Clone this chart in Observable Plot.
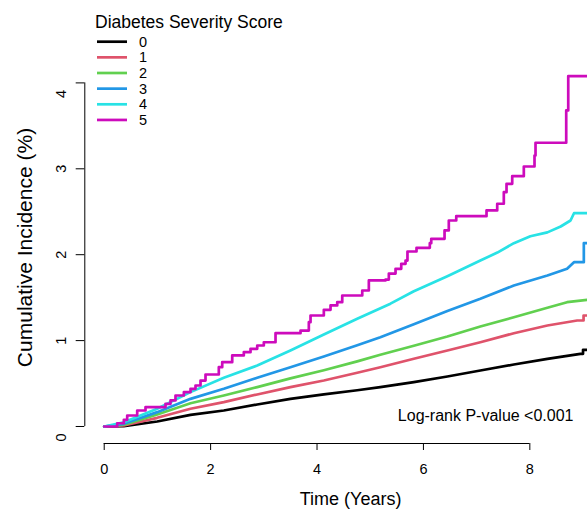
<!DOCTYPE html>
<html>
<head>
<meta charset="utf-8">
<script src="https://cdn.jsdelivr.net/npm/d3@7"></script>
<script src="https://cdn.jsdelivr.net/npm/@observablehq/plot@0.6"></script>
<style>
  html, body { margin: 0; padding: 0; background: #fff; }
  #wrap { position: relative; width: 587px; height: 512px; font-family: "Liberation Sans", Arial, Helvetica, sans-serif; }
  #wrap svg { display: block; }
  #legend { position: absolute; left: 0; top: 0; }
</style>
</head>
<body>
<div id="wrap"></div>
<script>
// ---- data ----
const scores = ["0", "1", "2", "3", "4", "5"];
const palette = ["#000000", "#DF536B", "#61D04F", "#2297E6", "#28E2E5", "#CD0BBC"];
const legendTitle = "Diabetes Severity Score";
const xLabel = "Time (Years)";
const yLabel = "Cumulative Incidence (%)";
const pText = "Log-rank P-value <0.001";
const xTicks = [0, 2, 4, 6, 8];
const yTicks = [0, 1, 2, 3, 4];

// [time (years), cumulative incidence (%)]
const score0 = [[0,0],[0.369,0.005],[0.996,0.058],[1.622,0.136],[2.248,0.186],[2.876,0.256],[3.5,0.322],[4.128,0.373],[4.756,0.422],[5.19,0.458],[5.82,0.516],[6.45,0.582],[7.07,0.652],[7.7,0.722],[8.33,0.788],[8.95,0.846],[9.0,0.846],[9.0,0.893],[9.08,0.893]];
const score1 = [[0,0],[0.369,0.012],[0.996,0.101],[1.622,0.206],[2.248,0.283],[2.876,0.373],[3.5,0.458],[4.128,0.535],[4.756,0.625],[5.19,0.69],[5.82,0.788],[6.45,0.885],[7.07,0.981],[7.7,1.086],[8.33,1.176],[8.89,1.234],[9.01,1.234],[9.01,1.292],[9.08,1.292]];
const score2 = [[0,0],[0.369,0.02],[0.996,0.14],[1.622,0.271],[2.248,0.361],[2.876,0.458],[3.5,0.56],[4.128,0.655],[4.756,0.758],[5.19,0.835],[5.82,0.94],[6.45,1.048],[7.07,1.164],[7.7,1.272],[8.33,1.382],[8.7,1.447],[9.08,1.475]];
const score3 = [[0,0],[0.369,0.031],[0.996,0.167],[1.622,0.322],[2.248,0.439],[2.876,0.567],[3.5,0.69],[4.128,0.815],[4.756,0.945],[5.19,1.04],[5.82,1.19],[6.45,1.345],[7.07,1.486],[7.7,1.641],[8.33,1.758],[8.7,1.836],[8.83,1.913],[9.015,1.913],[9.015,2.134],[9.08,2.134]];
const score4 = [[0,0],[0.369,0.05],[0.996,0.206],[1.622,0.4],[2.248,0.567],[2.876,0.71],[3.5,0.885],[4.128,1.071],[4.756,1.254],[5.38,1.43],[5.82,1.575],[6.45,1.75],[7.07,1.932],[7.39,2.025],[7.7,2.134],[8.01,2.215],[8.33,2.26],[8.58,2.328],[8.765,2.398],[8.83,2.483],[9.08,2.483]];
// step function: value holds from the given time onwards
const score5 = [[0,0],[0.244,0.038],[0.369,0.078],[0.432,0.128],[0.62,0.186],[0.776,0.225],[1.152,0.264],[1.246,0.303],[1.34,0.361],[1.497,0.4],[1.622,0.439],[1.716,0.477],[1.81,0.535],[1.904,0.605],[2.154,0.69],[2.218,0.749],[2.406,0.827],[2.624,0.865],[2.75,0.904],[2.876,0.943],[3.0,0.981],[3.22,1.086],[3.69,1.117],[3.846,1.214],[3.878,1.292],[4.128,1.358],[4.254,1.409],[4.38,1.447],[4.474,1.525],[4.85,1.583],[4.974,1.7],[5.288,1.71],[5.35,1.78],[5.476,1.836],[5.583,1.894],[5.664,1.932],[5.7,2.037],[5.87,2.08],[6.12,2.134],[6.147,2.185],[6.397,2.282],[6.477,2.398],[6.617,2.448],[7.186,2.515],[7.387,2.593],[7.511,2.728],[7.562,2.825],[7.669,2.914],[7.887,3.027],[8.088,3.155],[8.107,3.303],[8.684,3.679],[8.722,4.078],[9.08,4.078]];

const smoothSeries = [score0, score1, score2, score3, score4];
const smoothRows = smoothSeries.flatMap((s, i) => s.map(([t, v]) => ({score: scores[i], t, v})));
const stepRows = score5.map(([t, v]) => ({score: scores[5], t, v}));

const xDomain = [-0.365, 9.084];
const yDomain = [-0.198, 4];
const font = "'Liberation Sans', Arial, Helvetica, sans-serif";
const endTicks = [yTicks[0], yTicks[yTicks.length - 1]];
const midTicks = yTicks.filter(d => !endTicks.includes(d));

const yTickText = (data, dy) => Plot.text(data, {y: d => d, frameAnchor: "left", text: d => String(d), rotate: -90, dx: -23.6, dy, fontSize: 14.5, textAnchor: "middle", lineAnchor: "middle", fill: "#000"});

const chart = Plot.plot({
  width: 587,
  height: 512,
  marginLeft: 84.3,
  marginRight: 0,
  marginTop: 82.4,
  marginBottom: 69,
  style: {fontFamily: font, background: "#fff", color: "#000", overflow: "visible"},
  x: {domain: xDomain},
  y: {domain: yDomain},
  color: {domain: scores, range: palette},
  marks: [
    // axis lines (R style: span first to last tick)
    Plot.ruleY([yDomain[0]], {x1: xTicks[0], x2: xTicks[xTicks.length - 1], stroke: "#000", strokeWidth: 1}),
    Plot.ruleX([xDomain[0]], {y1: yTicks[0], y2: yTicks[yTicks.length - 1], stroke: "#000", strokeWidth: 1}),
    Plot.axisX({ticks: xTicks, tickSize: 7, tickPadding: 13, fontSize: 14.5, label: null, stroke: "#000", color: "#000"}),
    Plot.axisY({ticks: yTicks, tickSize: 8.6, tickFormat: () => "", label: null, stroke: "#000"}),
    yTickText(midTicks, 0),
    yTickText(endTicks, 11),
    // curves
    Plot.line(smoothRows, {x: "t", y: "v", z: "score", stroke: "score", strokeWidth: 2.7, curve: "linear"}),
    Plot.line(stepRows, {x: "t", y: "v", z: "score", stroke: "score", strokeWidth: 2.7, curve: "step-after"}),
    // annotation
    Plot.text([pText], {frameAnchor: "bottom-right", dx: -14, dy: -28, text: d => d, textAnchor: "end", lineAnchor: "middle", fontSize: 16, fill: "#000"}),
    // axis titles
    Plot.text([xLabel], {frameAnchor: "bottom", dx: 14.4, dy: 56, text: d => d, textAnchor: "middle", lineAnchor: "middle", fontSize: 18, fill: "#000"}),
    Plot.text([yLabel], {frameAnchor: "left", dx: -59.3, dy: -15.7, text: d => d, rotate: -90, textAnchor: "middle", lineAnchor: "middle", fontSize: 21, fill: "#000"})
  ]
});

const wrap = document.getElementById("wrap");
wrap.appendChild(chart);

// legend overlay (top-left, inside plot area)
const leg = d3.select(wrap).append("svg")
  .attr("id", "legend")
  .attr("width", 320)
  .attr("height", 135)
  .style("font-family", font);
leg.append("text")
  .attr("x", 95).attr("y", 22)
  .attr("dominant-baseline", "central")
  .attr("font-size", 17.5)
  .attr("fill", "#000")
  .text(legendTitle);
const rows = leg.selectAll("g.row").data(scores).join("g").attr("class", "row")
  .attr("transform", (d, i) => `translate(0,${41.7 + i * 15.65})`);
rows.append("line").attr("x1", 97).attr("x2", 127).attr("y1", 0).attr("y2", 0)
  .attr("stroke", (d, i) => palette[i]).attr("stroke-width", 2.7);
rows.append("text").attr("x", 139).attr("y", 0)
  .attr("dominant-baseline", "central")
  .attr("font-size", 14.5).attr("fill", "#000")
  .text(d => d);
</script>
</body>
</html>
